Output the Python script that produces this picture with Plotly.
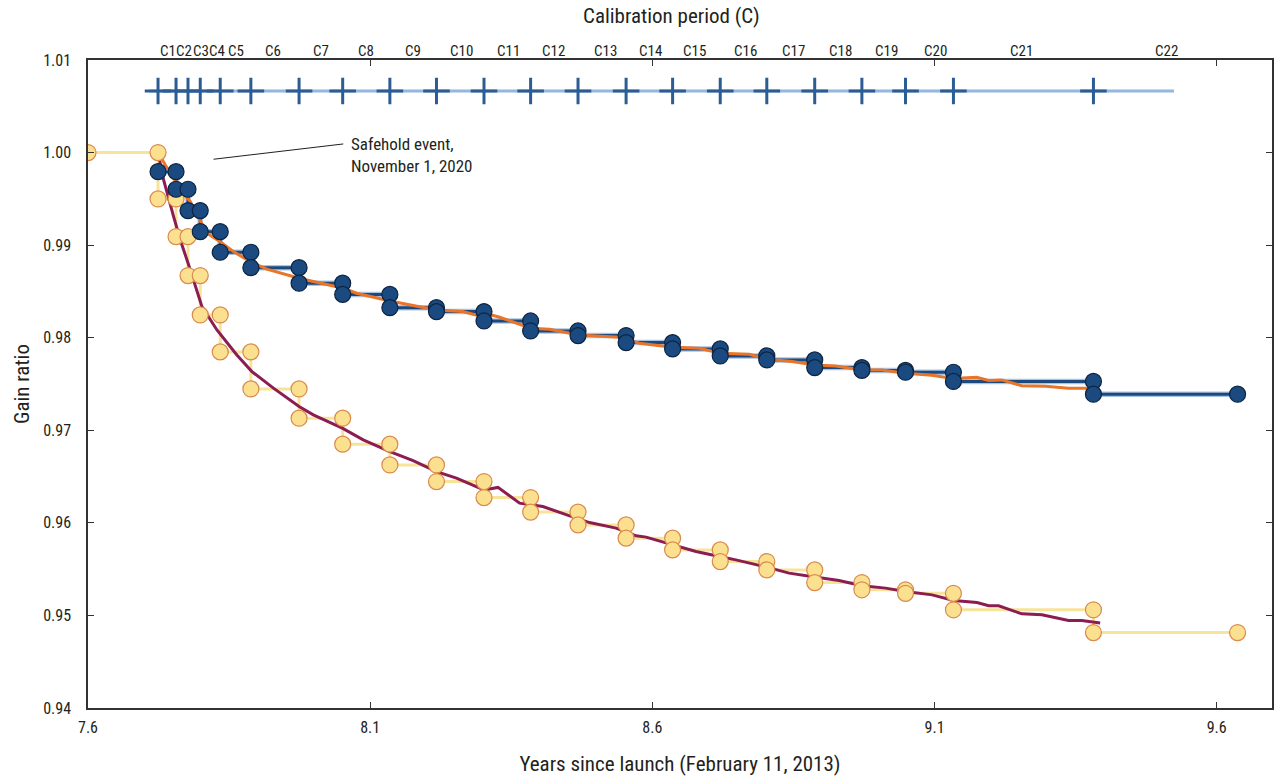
import plotly.graph_objects as go

# ---------------- data ----------------
# calibration-period boundary times (years since launch)
cal_times = [7.7241, 7.7560, 7.7772, 7.7989, 7.8343, 7.8886, 7.9740, 8.0513, 8.1349,
             8.2175, 8.3017, 8.3843, 8.4683, 8.5535, 8.6359, 8.7203, 8.8028, 8.8877,
             8.9713, 9.0486, 9.1335, 9.3816]
cal_line_start = 7.7088
cal_line_end = 9.5243
cal_level = 1.00665
cal_labels = ["C%d" % i for i in range(1, 23)]
cal_label_x = [7.7424, 7.7706, 7.8002, 7.8285, 7.8621, 7.9280, 8.0124, 8.0920, 8.1756,
               8.2617, 8.3459, 8.4255, 8.5169, 8.5959, 8.6743, 8.7645, 8.8499, 8.9337,
               9.0156, 9.1017, 9.2543, 9.5107]

end_time = 9.6370
start_time = 7.6

# step gain values per calibration (value reached at each cal_time)
blue_vals = [0.99794, 0.99604, 0.99373, 0.99146, 0.98923, 0.98757, 0.98589, 0.98468,
             0.98325, 0.98282, 0.98181, 0.98073, 0.98023, 0.97947, 0.97879, 0.97803,
             0.97760, 0.97677, 0.97647, 0.97627, 0.97528, 0.97390]
yellow_start = 1.0
yellow_vals = [0.99499, 0.99092, 0.98671, 0.98246, 0.97847, 0.97447, 0.97131, 0.96850,
               0.96626, 0.96446, 0.96273, 0.96116, 0.95978, 0.95835, 0.95708, 0.95582,
               0.95492, 0.95355, 0.95277, 0.95239, 0.95061, 0.94815]

# continuous gain curves
orange_x = [7.7241, 7.7370, 7.7694, 7.7813, 7.7901, 7.8108, 7.8343, 7.8578, 7.8874, 7.9169,
            7.9740, 8.0111, 8.0523, 8.0760, 8.1349, 8.2175, 8.2640, 8.3017, 8.3171, 8.3294,
            8.3843, 8.4179, 8.4691, 8.5416, 8.5770, 8.6359, 8.6831, 8.7202, 8.7715, 8.8028,
            8.8476, 8.8877, 8.9248, 8.9719, 9.0067, 9.0486, 9.0721, 9.0951, 9.1323, 9.1747,
            9.1959, 9.2189, 9.2543, 9.2967, 9.3374, 9.3675, 9.3935]
orange_y = [1.0000, 0.99866, 0.99560, 0.99470, 0.99362, 0.99129, 0.99038, 0.98930, 0.98822, 0.98740,
            0.98643, 0.98589, 0.98535, 0.98481, 0.98397, 0.98300, 0.98282, 0.98221, 0.98241, 0.98221,
            0.98103, 0.98092, 0.98030, 0.98005, 0.97941, 0.97898, 0.97887, 0.97833, 0.97822, 0.97768,
            0.97742, 0.97706, 0.97695, 0.97652, 0.97652, 0.97617, 0.97609, 0.97595, 0.97559, 0.97573,
            0.97539, 0.97544, 0.97482, 0.97476, 0.97455, 0.97455, 0.97429]

maroon_x = [7.7241, 7.7340, 7.7517, 7.7636, 7.7813, 7.8019, 7.8285, 7.8638, 7.8904, 7.9286,
            7.9740, 7.9993, 8.0506, 8.0877, 8.1349, 8.1761, 8.2175, 8.2529, 8.3017, 8.3264,
            8.3648, 8.3843, 8.4060, 8.4651, 8.4886, 8.5358, 8.5712, 8.5889, 8.6359, 8.6773,
            8.7127, 8.7480, 8.8028, 8.8423, 8.8877, 8.9307, 8.9719, 9.0133, 9.0486, 9.0721,
            9.0957, 9.1340, 9.1752, 9.1959, 9.2136, 9.2548, 9.2902, 9.3374, 9.3609, 9.3935]
maroon_y = [1.0000, 0.99704, 0.99308, 0.99056, 0.98732, 0.98336, 0.98084, 0.97814, 0.97634, 0.97455,
            0.97256, 0.97166, 0.97023, 0.96896, 0.96770, 0.96673, 0.96554, 0.96483, 0.96356, 0.96383,
            0.96213, 0.96194, 0.96176, 0.96051, 0.96003, 0.95943, 0.95860, 0.95846, 0.95762, 0.95690,
            0.95644, 0.95600, 0.95522, 0.95457, 0.95414, 0.95377, 0.95320, 0.95295, 0.95258, 0.95241,
            0.95222, 0.95161, 0.95139, 0.95104, 0.95104, 0.95017, 0.95007, 0.94945, 0.94945, 0.94917]

x_ticks = [7.6, 8.1, 8.6, 9.1, 9.6]
y_ticks = [0.94, 0.95, 0.96, 0.97, 0.98, 0.99, 1.00, 1.01]

annot_line = dict(x0=7.8225, y0=0.99928, x1=8.0523, y1=1.00093)
annot_text_pos = (8.0625, 1.0022)

# ---------------- build step coordinates ----------------
def stair(times, vals, first=None, start=None, end=None):
    xs, ys = [], []
    if first is not None:
        xs.append(start); ys.append(first)
        prev = first
    else:
        prev = None
    for t, v in zip(times, vals):
        if prev is not None:
            xs.append(t); ys.append(prev)
        xs.append(t); ys.append(v)
        prev = v
    xs.append(end); ys.append(prev)
    return xs, ys

bx, by = stair(cal_times, blue_vals, end=end_time)
yx, yy = stair(cal_times, yellow_vals, first=yellow_start, start=start_time, end=end_time)

FONT = "Liberation Sans Narrow, Roboto Condensed, DejaVu Sans Condensed, Arial Narrow, sans-serif"
TXT = "#231f20"

fig = go.Figure()

# calibration period line with crosses
fig.add_trace(go.Scatter(x=[cal_line_start, cal_line_end], y=[cal_level, cal_level], mode="lines",
                         line=dict(color="#94b6df", width=3), hoverinfo="skip", showlegend=False))
fig.add_trace(go.Scatter(x=cal_times, y=[cal_level] * len(cal_times), mode="markers",
                         marker=dict(symbol="cross-thin", size=19,
                                     line=dict(color="#2b5c93", width=3)),
                         showlegend=False))

# step lines
fig.add_trace(go.Scatter(x=yx, y=yy, mode="lines", line=dict(color="#f7e49b", width=3),
                         showlegend=False))
fig.add_trace(go.Scatter(x=bx, y=by, mode="lines", line=dict(color="#a9c3e2", width=5.5),
                         showlegend=False))
fig.add_trace(go.Scatter(x=bx, y=by, mode="lines", line=dict(color="#1c4a7e", width=3),
                         showlegend=False))
# continuous curves
fig.add_trace(go.Scatter(x=maroon_x, y=maroon_y, mode="lines",
                         line=dict(color="#8c1d52", width=3), showlegend=False))
fig.add_trace(go.Scatter(x=orange_x, y=orange_y, mode="lines",
                         line=dict(color="#ea7428", width=3), showlegend=False))
# markers
fig.add_trace(go.Scatter(x=yx, y=yy, mode="markers",
                         marker=dict(size=16, color="#fbe18f", line=dict(color="#d98a4c", width=1.2)),
                         showlegend=False))
fig.add_trace(go.Scatter(x=bx, y=by, mode="markers",
                         marker=dict(size=16, color="#1a4a7f", line=dict(color="#0c2442", width=1.2)),
                         showlegend=False))

# calibration labels
for lab, lx in zip(cal_labels, cal_label_x):
    fig.add_annotation(x=lx, y=1.0143, xref="x", yref="paper", text=lab, showarrow=False,
                       xanchor="center", yanchor="middle",
                       font=dict(family=FONT, size=15, color=TXT))

fig.add_annotation(x=0.4926, y=1.068, xref="paper", yref="paper", text="Calibration period (C)",
                   showarrow=False, xanchor="center", yanchor="middle",
                   font=dict(family=FONT, size=21, color=TXT))

# safehold annotation
fig.add_shape(type="line", xref="x", yref="y", line=dict(color="#231f20", width=1), **annot_line)
fig.add_annotation(x=annot_text_pos[0], y=annot_text_pos[1], xref="x", yref="y",
                   text="Safehold event,<br>November 1, 2020", showarrow=False,
                   xanchor="left", yanchor="top", align="left",
                   font=dict(family=FONT, size=17, color=TXT))

axis_common = dict(showline=True, linecolor="#333333", linewidth=1.5, mirror="ticks",
                   ticks="inside", ticklen=6, tickwidth=1, tickcolor="#333333",
                   showgrid=False, zeroline=False,
                   tickfont=dict(family=FONT, size=16, color=TXT))

fig.update_xaxes(range=[7.6, 9.698], tickvals=x_ticks, ticktext=["%.1f" % v for v in x_ticks],
                 title=dict(text="Years since launch (February 11, 2013)",
                            font=dict(family=FONT, size=21, color=TXT), standoff=20),
                 ticklabelstandoff=4, **axis_common)
fig.update_yaxes(range=[0.94, 1.01], tickvals=y_ticks, ticktext=["%.2f" % v for v in y_ticks],
                 title=dict(text="Gain ratio", font=dict(family=FONT, size=21, color=TXT), standoff=8),
                 ticklabelstandoff=12, **axis_common)

fig.update_layout(width=1278, height=782, margin=dict(l=88, r=4, t=60, b=74),
                  plot_bgcolor="white", paper_bgcolor="white", showlegend=False)

fig.write_html("out.html")
